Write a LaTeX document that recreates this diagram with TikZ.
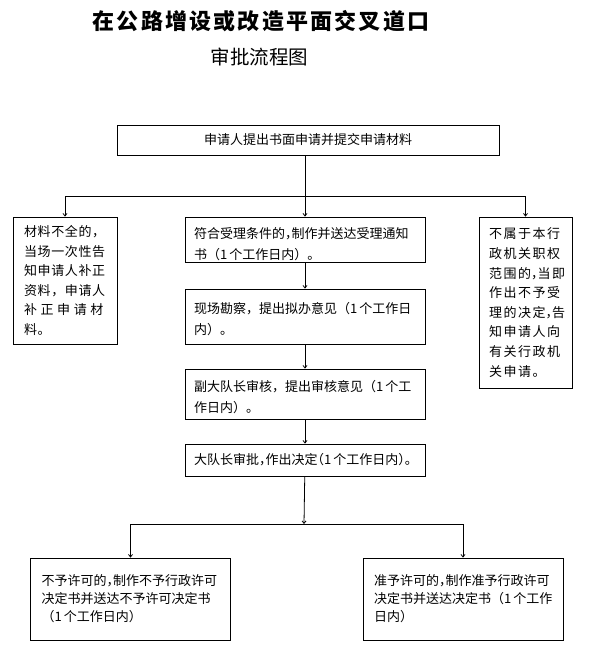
\documentclass[tikz,border=0pt]{standalone}
\usepackage{fontspec}
\setmainfont{Noto Sans CJK SC}
\newfontfamily\titlefont[LetterSpace=10]{Noto Sans CJK SC}
\usetikzlibrary{arrows.meta}
% narrow comma, as in the scan
\newcommand{\hc}{{\addfontfeature{RawFeature=+halt}，}}
\newcommand{\gap}{\kern3.6pt }
\tikzset{
  box/.style={draw, line width=0.8pt, inner ysep=0pt, inner xsep=10pt, align=left},
  midbox/.style={box, text width=222pt, inner xsep=9pt, font=\fontsize{13}{21}\selectfont},
  lowbox/.style={box, text width=178pt, inner xsep=11pt, minimum height=82pt, font=\fontsize{13}{18}\selectfont},
  arr/.style={-{Straight Barb[length=2.5pt,width=4pt]}, line width=0.8pt},
}
\begin{document}
\begin{tikzpicture}[x=1pt,y=-1pt]
\useasboundingbox (0,0) rectangle (597,652);
% headings
\node (title) at (261,21) {\titlefont\bfseries\fontsize{22}{22}\selectfont 在公路增设或改造平面交叉道口};
\node (subtitle) at (259.5,57) {\fontsize{19.5}{19.5}\selectfont 审批流程图};
% application
\node[box, align=center, text width=362pt, minimum height=30pt, font=\fontsize{13}{13}\selectfont] (apply) at (308,140) {申请人提出书面申请并提交申请材料};
% three outcomes of the check
\node[box, text width=82pt, inner xsep=11pt, minimum height=127pt, font=\fontsize{13}{19.6}\selectfont\addfontfeature{LetterSpace=5}] (lack) at (65,280.5)
  {材料不全的，\\当场一次性告\\知申请人补正\\资料，申请人\\补\gap 正\gap 申\gap 请\gap 材\\料。};
\node[midbox, minimum height=45pt] (accept) at (305,239.5) {\rule{0pt}{20pt}符合受理条件的\hc 制作并送达受理通知\\书（1\,个工作日内）。};
\node[box, text width=73pt, minimum height=171pt, font=\fontsize{13}{19.6}\selectfont\addfontfeature{LetterSpace=12}] (refuse) at (525.5,302.5)
  {不属于本行\\政机关职权\\范围的\hc 当即\\作出不予受\\理的决定\hc 告\\知申请人向\\有关行政机\\关申请。};
% steps
\node[midbox, minimum height=55pt] (survey) at (305,316.5) {\rule{0pt}{16pt}现场勘察，提出拟办意见（1\,个工作日\\内）。};
\node[midbox, minimum height=50pt] (review) at (305,394) {\rule{0pt}{17pt}副大队长审核，提出审核意见（1\,个工\\作日内）。};
\node[midbox, minimum height=32pt, font=\fontsize{13}{21}\selectfont\addfontfeature{RawFeature=+halt}] (approve) at (305,460) {大队长审批，作出决定（1\,个工作日内）。};
% decisions
\node[lowbox] (deny) at (130.5,599) {不予许可的\hc 制作不予行政许可\\决定书并送达不予许可决定书\\（1\,个工作日内）};
\node[lowbox] (grant) at (463,599) {准予许可的\hc 制作准予行政许可\\决定书并送达决定书（1\,个工作\\日内）};
% connectors
\coordinate (split) at (304,196);
\coordinate (merge) at (304,524);
\draw[arr] (apply.south -| accept.north) -- (accept.north);
\draw[arr] (split) -| (lack.north);
\draw[arr] (split) -| (refuse.north);
\foreach \a/\b in {accept/survey,survey/review,review/approve}
  \draw[arr] (\a) -- (\b);
\draw[arr] (approve) -- (merge);
\draw[arr] (merge) -| (deny.north);
\draw[arr] (merge) -| (grant.north);
\end{tikzpicture}
\end{document}
